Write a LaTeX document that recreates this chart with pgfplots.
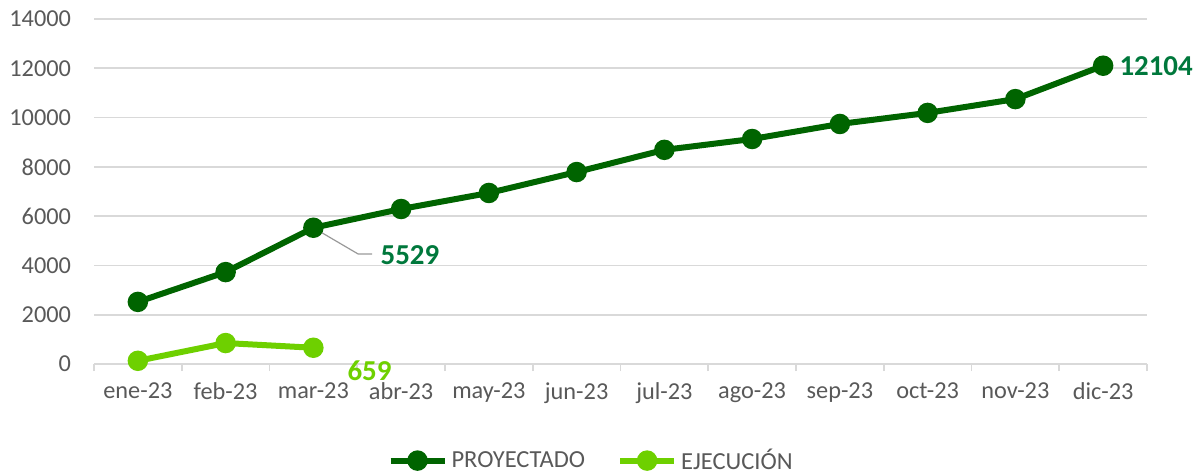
\documentclass[border=0pt]{standalone}
\usepackage{pgfplots}
\pgfplotsset{compat=1.18}
\usepackage{fontspec}
\setmainfont{Carlito}
\definecolor{proy}{RGB}{0,100,0}
\definecolor{ejec}{RGB}{110,208,0}
\definecolor{lblproy}{RGB}{0,120,60}
\definecolor{txt}{RGB}{89,89,89}
\definecolor{grd}{RGB}{217,217,217}

\begin{document}
\begin{tikzpicture}
\useasboundingbox (-47bp,-53.5bp) rectangle (552.5bp,182bp);
\begin{axis}[
    scale only axis,
    width=526.5bp, height=172.5bp,
    xmin=-0.5, xmax=11.5,
    ymin=0, ymax=14000,
    ytick={0,2000,...,14000},
    xtick={0,...,11},
    xticklabels={ene-23,feb-23,mar-23,abr-23,may-23,jun-23,jul-23,ago-23,sep-23,oct-23,nov-23,dic-23},
    minor xtick={-0.5,0.5,...,11.5},
    major tick length=0pt,
    minor tick length=3.5bp,
    tick align=outside,
    minor tick style={grd, line width=0.8bp},
    axis lines*=left,
    y axis line style={draw=none},
    x axis line style={grd, line width=0.8bp},
    ymajorgrids,
    grid style={grd, line width=0.8bp},
    minor grid style={draw=none},
    tick label style={font=\fontsize{12.2}{14}\selectfont, text=txt},
    yticklabel style={xshift=-8bp},
    xticklabel style={yshift=-6bp},
    scaled y ticks=false,
    /pgf/number format/assume math mode=true,
    yticklabel={\pgfmathprintnumber[fixed,1000 sep={}]{\tick}},
    clip=false,
    legend columns=2,
    legend style={draw=none, fill=none, at={(0.473,-0.28)}, anchor=center,
        font=\fontsize{12.3}{14}\selectfont, text=txt,
        /tikz/every even column/.append style={column sep=14bp}},
    legend image code/.code={\draw[mark repeat=2,mark phase=2,#1]
        plot coordinates {(0bp,0bp) (13.5bp,0bp) (27bp,0bp)};},
]
\addplot[proy, line width=3bp, mark=*, mark size=3.6bp, mark options={fill=proy, draw=none}]
coordinates {
  (0,2520) (1,3730) (2,5529) (3,6290) (4,6940) (5,7790)
  (6,8690) (7,9130) (8,9740) (9,10190) (10,10750) (11,12104)
};
\addlegendentry{PROYECTADO}
\addplot[ejec, line width=3bp, mark=*, mark size=3.6bp, mark options={fill=ejec, draw=none}]
coordinates {
  (0,130) (1,850) (2,659)
};
\addlegendentry{EJECUCIÓN}

\draw[gray!80, line width=0.6bp] (axis cs:2,5529) -- (axis cs:2.51,4464) -- (axis cs:2.67,4464);
\node[text=lblproy, font=\fontsize{14.5}{16}\selectfont\bfseries, inner sep=0pt]
  at (axis cs:3.1,4424) {5529};
\node[text=lblproy, font=\fontsize{14.5}{16}\selectfont\bfseries, inner sep=0pt, anchor=west]
  at (axis cs:11,12104) [xshift=8bp] {12104};
\node[text=ejec, font=\fontsize{14.5}{16}\selectfont\bfseries, inner sep=0pt]
  at (axis cs:2.64,-290) {659};
\end{axis}
\end{tikzpicture}
\end{document}
